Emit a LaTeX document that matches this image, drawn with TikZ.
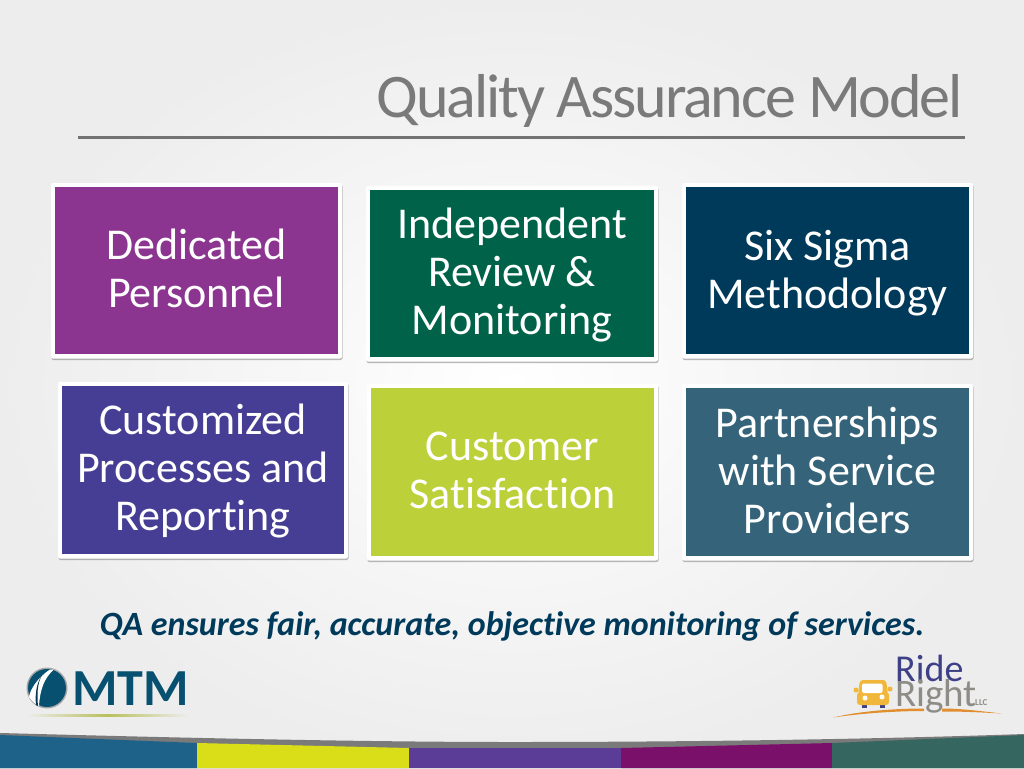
\documentclass[tikz,border=0pt]{standalone}
\usepackage{fontspec}
\setmainfont[Ligatures=NoCommon,Contextuals=NoAlternate]{Carlito}
\usetikzlibrary{shadows}
\definecolor{cpurple}{HTML}{8C3590}
\definecolor{cgreen}{HTML}{006349}
\definecolor{cnavy}{HTML}{003A5B}
\definecolor{cindigo}{HTML}{463E94}
\definecolor{clime}{HTML}{BCD139}
\definecolor{cslate}{HTML}{35647A}
\definecolor{bandb}{HTML}{1F6289}
\definecolor{bandy}{HTML}{D9DE18}
\definecolor{bandi}{HTML}{5B3C96}
\definecolor{bandp}{HTML}{7A1069}
\definecolor{bandg}{HTML}{35665F}
\definecolor{mtm}{HTML}{07506F}
\definecolor{rr}{HTML}{3D3F87}
\definecolor{rg}{HTML}{8E8C86}
\definecolor{ro}{HTML}{E08E2F}
\definecolor{ry}{HTML}{F1B73A}
\definecolor{uline}{HTML}{B9BF5C}
\definecolor{bgedge}{HTML}{EDEDED}
\tikzset{
  frame/.style={fill=white,draw=none,rounded corners=2pt,drop shadow={shadow xshift=0.5pt,shadow yshift=-1.5pt,opacity=0.45,fill=black!60}},
  tile/.style={font=\fontsize{44}{48}\selectfont,text=white,align=center,inner sep=0pt},
}
\begin{document}
\begin{tikzpicture}[x=1pt,y=-1pt]
\useasboundingbox (0,0) rectangle (1024,768);
\shade[inner color=white,outer color=bgedge] (0,0) rectangle (1024,768);
% title
\node[anchor=base east,inner sep=0pt,text=black!52,font=\fontsize{62}{66}\selectfont\addfontfeatures{LetterSpace=-3.5}] (title) at (963,117) {Quality Assurance Model};
\coordinate (ruleL) at (78,137);
\coordinate (ruleR) at (965,137);
\draw[line width=3pt,black!55] (ruleL) -- (ruleR);
% tiles
\newcommand{\tile}[8]{%
  \fill[frame] (#1-4,#3-4) rectangle (#2+4,#4+4.5);
  \fill[#5] (#1,#3) rectangle (#2,#4);
  \node[tile] (#6) at ({(#1+#2)/2},{(#3+#4)/2+#8}) {#7};
}
\tile{55}{338}{187}{354}{cpurple}{t1}{Dedicated\\Personnel}{-2}
\tile{370}{654}{190}{357}{cgreen}{t2}{Independent\\Review \&\\Monitoring}{2}
\tile{686}{969}{187}{354}{cnavy}{t3}{Six Sigma\\Methodology}{3}
\tile{62}{344}{386}{554}{cindigo}{t4}{Customized\\Processes and\\Reporting}{1}
\tile{371}{654}{388}{556}{clime}{t5}{Customer\\Satisfaction}{-2}
\tile{686}{969}{388}{556}{cslate}{t6}{Partnerships\\with Service\\Providers}{-2}
% caption
\node[anchor=base,inner sep=0pt,text=cnavy,font=\fontsize{34}{38}\selectfont\bfseries\itshape] (cap) at (512,635) {QA ensures fair, accurate, objective monitoring of services.};
% band
\fill[black!52] (0,733) .. controls (150,737) and (350,742) .. (512,742) .. controls (700,742) and (880,739) .. (1024,734) -- (1024,768) -- (0,768) -- cycle;
\fill[bandb] (0,735) -- (197,743) -- (197,768) -- (0,768) -- cycle;
\fill[bandy] (197,743) -- (409,748) -- (409,768) -- (197,768) -- cycle;
\fill[bandi] (409,748) -- (621,748) -- (621,768) -- (409,768) -- cycle;
\fill[bandp] (621,748) -- (832,743) -- (832,768) -- (621,768) -- cycle;
\fill[bandg] (832,743) -- (1024,735) -- (1024,768) -- (832,768) -- cycle;
% MTM logo
\node[anchor=base west,inner sep=0pt,text=mtm,font=\fontsize{52}{52}\selectfont\bfseries] (mtmtext) at (72,705) {MTM};
\fill[black!35] (47,688) circle (20.5);
\fill[mtm] (47,688) circle (19);
\fill[white] (50,669.5) .. controls (37,678) and (30,690) .. (29,697) .. controls (32,701) and (36,705) .. (39,706) .. controls (40,690) and (44,678) .. (54,669.5) -- cycle;
\fill[mtm!70!black] (42,675) .. controls (37,684) and (37,695) .. (38,706) -- (36,705) .. controls (35,695) and (36,684) .. (42,675) -- cycle;
\shade[left color=bgedge,right color=bgedge,middle color=uline] (26,714) rectangle (188,716.5);
% Ride Right logo
\node[anchor=base west,inner sep=0pt,text=rr,font=\fontsize{38}{38}\selectfont] (ride) at (895,681) {Ride};
\node[anchor=base west,inner sep=0pt,text=rg,font=\fontsize{39}{39}\selectfont] (right) at (895,706) {Right};
\node[anchor=base west,inner sep=0pt,text=rg,font=\fontsize{9}{9}\selectfont\bfseries] (llc) at (975,705) {LLC};
\fill[ro] (833,717.5) .. controls (860,711) and (895,708.5) .. (924,708.5) -- (924,711) .. controls (895,711) and (860,713.5) .. (833,717.5) -- cycle;
\fill[ro] (942,708.5) .. controls (960,708.5) and (975,710.5) .. (1002,713.5) .. controls (975,712) and (960,711.5) .. (942,711.5) -- cycle;
% car
\fill[rr] (862,703) rectangle (866.5,708);
\fill[rr] (880,703) rectangle (885,708);
\fill[ry,rounded corners=3pt] (857,692) rectangle (889,705);
\fill[ry,rounded corners=3pt] (860,680) -- (886,680) -- (888,694) -- (858,694) -- cycle;
\fill[white,rounded corners=2pt] (862,683.5) rectangle (882.5,693);
\fill[ry] (856,690) circle (2.5);
\fill[ry] (890,689) circle (2.5);
\fill[white] (865,698) circle (2.5);
\fill[white] (882,697) circle (2.5);
\end{tikzpicture}
\end{document}
